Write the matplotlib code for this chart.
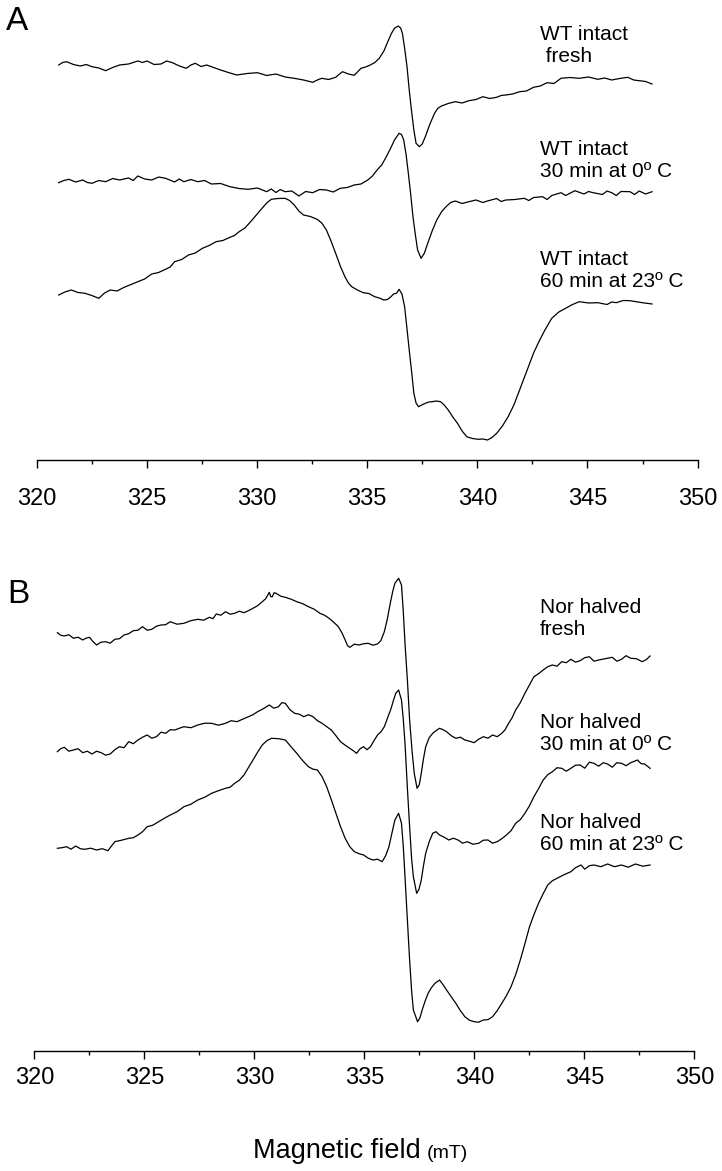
import matplotlib.pyplot as plt
from matplotlib.ticker import MultipleLocator

plt.rcParams['font.family'] = ['Liberation Sans', 'DejaVu Sans']

# ---- panel A: WT intact (signal, arbitrary units, traces as stacked in the figure)
A1_X = [321.00, 321.18, 321.36, 321.67, 321.98, 322.25, 322.51, 322.82, 323.13, 323.45,
        323.76, 324.17, 324.59, 324.80, 325.01, 325.33, 325.64, 325.90, 326.16, 326.48,
        326.79, 327.00, 327.20, 327.46, 327.72, 328.03, 328.35, 328.70, 329.08, 329.55,
        330.02, 330.44, 330.86, 331.28, 331.69, 332.11, 332.53, 332.74, 332.94, 333.25,
        333.57, 333.72, 333.88, 334.15, 334.41, 334.56, 334.72, 334.93, 335.14, 335.35,
        335.55, 335.76, 335.97, 336.10, 336.24, 336.41, 336.52, 336.60, 336.70, 336.81,
        336.91, 337.01, 337.12, 337.22, 337.37, 337.50, 337.64, 337.85, 338.06, 338.20,
        338.37, 338.68, 339.00, 339.31, 339.62, 339.94, 340.25, 340.56, 340.88, 341.08,
        341.29, 341.60, 341.92, 342.23, 342.55, 342.86, 343.17, 343.48, 343.80, 344.20,
        344.63, 345.05, 345.47, 345.78, 346.10, 346.46, 346.83, 347.10, 347.35, 347.64,
        347.93]
A1_Y = [395.0, 397.5, 398.3, 395.5, 394.0, 395.5, 393.3, 392.0, 389.3, 392.5,
        395.0, 396.0, 399.0, 397.5, 399.0, 395.5, 396.0, 399.0, 397.3, 394.0,
        391.7, 395.0, 396.7, 393.5, 395.0, 392.5, 390.0, 387.5, 385.0, 386.5,
        387.3, 384.5, 386.0, 383.0, 381.7, 380.0, 377.7, 380.0, 381.7, 380.5,
        382.7, 385.5, 388.3, 386.0, 384.7, 388.0, 391.7, 393.0, 395.0, 397.5,
        401.7, 409.0, 420.0, 426.5, 431.7, 434.0, 432.0, 426.7, 412.0, 393.3,
        370.0, 350.0, 330.0, 316.7, 313.3, 316.0, 323.3, 336.0, 346.7, 351.5,
        354.0, 356.5, 358.3, 357.0, 359.3, 360.5, 363.3, 361.5, 362.7, 364.5,
        365.0, 366.0, 368.3, 369.0, 372.7, 374.0, 377.3, 376.5, 381.7, 382.5,
        381.7, 383.0, 380.7, 382.0, 380.0, 381.5, 382.7, 380.0, 379.3, 378.5,
        376.0]

A2_X = [321.00, 321.23, 321.46, 321.77, 322.09, 322.30, 322.51, 322.82, 323.13, 323.45,
        323.76, 324.17, 324.38, 324.59, 324.90, 325.22, 325.54, 325.85, 326.26, 326.47,
        326.68, 327.00, 327.31, 327.62, 327.93, 328.35, 328.77, 329.18, 329.60, 330.02,
        330.44, 330.65, 330.86, 331.06, 331.27, 331.58, 331.90, 332.21, 332.53, 332.84,
        333.15, 333.46, 333.78, 334.10, 334.41, 334.72, 335.03, 335.24, 335.45, 335.66,
        335.87, 336.05, 336.24, 336.45, 336.56, 336.66, 336.77, 336.87, 336.98, 337.08,
        337.19, 337.29, 337.45, 337.60, 337.75, 337.95, 338.16, 338.37, 338.58, 338.79,
        339.00, 339.31, 339.62, 339.94, 340.25, 340.46, 340.88, 341.08, 341.29, 341.71,
        342.13, 342.34, 342.55, 342.96, 343.17, 343.38, 343.80, 344.01, 344.43, 344.84,
        345.05, 345.26, 345.68, 345.89, 346.10, 346.31, 346.52, 346.93, 347.14, 347.35,
        347.64, 347.93]
A2_Y = [277.3, 279.5, 280.7, 278.0, 280.0, 277.5, 276.7, 279.5, 278.3, 281.5,
        280.0, 282.0, 279.5, 284.0, 281.0, 280.0, 283.0, 281.7, 278.0, 281.0,
        278.3, 280.5, 278.3, 279.5, 276.0, 276.5, 273.3, 271.5, 270.7, 272.0,
        268.3, 271.0, 267.5, 270.5, 268.3, 269.0, 264.0, 268.5, 267.3, 270.5,
        270.0, 268.0, 271.7, 272.5, 275.0, 276.0, 280.0, 284.0, 290.0, 295.0,
        303.3, 311.0, 320.0, 326.7, 325.5, 320.0, 305.0, 286.7, 265.0, 243.3,
        225.0, 210.0, 201.7, 207.0, 216.7, 229.0, 240.0, 248.0, 253.3, 257.5,
        259.0, 256.5, 258.3, 260.0, 257.5, 259.0, 261.5, 258.5, 260.0, 260.5,
        261.7, 259.5, 262.5, 263.3, 260.5, 264.5, 267.3, 264.5, 269.3, 266.0,
        268.5, 267.3, 265.5, 269.0, 267.3, 264.5, 268.5, 268.3, 265.5, 269.0,
        266.0, 268.3]

A3_X = [321.00, 321.28, 321.57, 321.88, 322.19, 322.50, 322.82, 323.08, 323.34, 323.65,
        323.97, 324.28, 324.59, 324.90, 325.22, 325.53, 325.85, 326.06, 326.26, 326.58,
        326.89, 327.20, 327.52, 327.83, 328.14, 328.45, 328.77, 328.98, 329.19, 329.45,
        329.71, 329.97, 330.23, 330.44, 330.65, 330.96, 331.27, 331.48, 331.69, 331.90,
        332.11, 332.42, 332.73, 332.94, 333.15, 333.36, 333.57, 333.78, 333.99, 334.15,
        334.30, 334.56, 334.82, 335.08, 335.34, 335.55, 335.76, 335.92, 336.08, 336.20,
        336.33, 336.45, 336.58, 336.70, 336.80, 336.91, 337.02, 337.12, 337.22, 337.33,
        337.48, 337.64, 337.80, 337.95, 338.14, 338.33, 338.50, 338.68, 338.89, 339.10,
        339.31, 339.52, 339.78, 340.04, 340.25, 340.46, 340.67, 340.88, 341.14, 341.40,
        341.66, 341.92, 342.23, 342.55, 342.81, 343.07, 343.38, 343.70, 344.01, 344.32,
        344.63, 345.05, 345.47, 345.89, 346.10, 346.31, 346.62, 346.93, 347.43, 347.93]
A3_Y = [165.0, 168.0, 170.0, 167.5, 166.7, 164.5, 161.7, 167.0, 170.0, 169.0,
        172.7, 175.5, 178.3, 181.0, 186.0, 187.5, 190.7, 193.0, 198.3, 200.5,
        205.0, 207.0, 211.7, 214.5, 218.3, 219.5, 222.7, 224.5, 228.3, 232.0,
        238.3, 245.0, 251.7, 257.0, 260.7, 261.5, 261.7, 259.5, 255.0, 249.0,
        245.0, 243.5, 240.7, 237.0, 230.0, 219.0, 206.7, 194.0, 183.3, 177.0,
        173.3, 170.0, 167.3, 166.5, 163.3, 162.0, 160.0, 160.5, 163.3, 166.0,
        166.7, 170.7, 166.0, 153.3, 133.0, 110.0, 88.0, 66.7, 57.0, 53.3,
        55.0, 56.7, 58.0, 58.3, 59.0, 58.3, 55.0, 50.0, 43.0, 36.7,
        29.0, 23.3, 21.5, 20.7, 21.0, 20.0, 22.5, 26.7, 34.0, 43.3,
        55.0, 70.0, 88.0, 106.7, 119.0, 130.0, 141.7, 148.0, 151.7, 155.5,
        158.3, 157.0, 157.3, 155.5, 158.0, 157.3, 159.5, 159.3, 157.5, 156.0]

A_LABELS = ['WT intact\n fresh', 'WT intact\n30 min at 0º C', 'WT intact\n60 min at 23º C']

# ---- panel B: Nor halved
B1_X = [321.05, 321.20, 321.36, 321.57, 321.78, 321.99, 322.20, 322.35, 322.51, 322.67,
        322.83, 323.03, 323.24, 323.45, 323.66, 323.87, 324.08, 324.29, 324.50, 324.71,
        324.92, 325.13, 325.34, 325.55, 325.76, 325.97, 326.18, 326.49, 326.80, 327.11,
        327.43, 327.70, 327.96, 328.12, 328.27, 328.48, 328.69, 328.90, 329.11, 329.32,
        329.53, 329.73, 329.94, 330.15, 330.36, 330.52, 330.68, 330.75, 330.82, 330.90,
        330.99, 331.20, 331.41, 331.67, 331.93, 332.20, 332.46, 332.72, 332.98, 333.19,
        333.40, 333.61, 333.82, 333.98, 334.13, 334.24, 334.34, 334.55, 334.76, 334.97,
        335.18, 335.39, 335.60, 335.75, 335.91, 336.05, 336.18, 336.29, 336.39, 336.56,
        336.69, 336.77, 336.85, 336.96, 337.06, 337.17, 337.27, 337.40, 337.50, 337.59,
        337.69, 337.79, 337.95, 338.11, 338.26, 338.42, 338.58, 338.74, 338.95, 339.16,
        339.37, 339.57, 339.78, 339.99, 340.20, 340.41, 340.62, 340.83, 341.04, 341.25,
        341.40, 341.56, 341.72, 341.88, 342.09, 342.30, 342.51, 342.71, 342.92, 343.13,
        343.34, 343.55, 343.76, 343.97, 344.18, 344.39, 344.60, 344.81, 345.02, 345.23,
        345.44, 345.65, 345.96, 346.27, 346.48, 346.69, 346.90, 347.11, 347.37, 347.63,
        347.81, 347.99]
B1_Y = [418.0, 415.5, 414.7, 416.0, 412.4, 413.5, 410.7, 412.5, 413.4, 409.0,
        405.7, 408.5, 409.0, 407.5, 411.4, 412.0, 415.7, 417.0, 420.0, 420.5,
        424.0, 420.5, 421.4, 424.5, 425.7, 426.0, 429.0, 426.5, 427.4, 430.0,
        431.4, 430.5, 433.4, 432.0, 436.7, 435.5, 439.0, 436.5, 437.4, 439.5,
        438.0, 440.0, 442.4, 445.0, 449.0, 452.0, 458.4, 454.0, 454.0, 458.0,
        457.4, 454.5, 453.4, 451.5, 449.0, 447.0, 444.0, 441.5, 437.4, 435.5,
        432.4, 428.5, 424.0, 418.0, 410.7, 405.0, 403.4, 406.5, 405.7, 407.0,
        407.4, 405.5, 406.7, 410.0, 419.0, 432.0, 447.4, 459.0, 467.4, 472.4,
        465.7, 440.0, 407.4, 370.0, 330.7, 300.0, 277.4, 262.4, 266.0, 277.4,
        292.0, 304.0, 313.0, 317.4, 320.0, 322.4, 321.0, 319.0, 315.0, 312.4,
        313.5, 310.7, 309.5, 308.0, 311.5, 314.0, 312.5, 315.7, 314.0, 317.4,
        321.0, 327.4, 333.0, 340.7, 348.0, 357.4, 366.0, 374.0, 377.0, 380.7,
        384.0, 385.7, 384.5, 389.0, 388.0, 391.4, 388.5, 390.0, 393.0, 394.0,
        389.5, 390.7, 392.0, 393.4, 389.5, 391.4, 395.0, 392.4, 392.0, 389.0,
        391.0, 394.7]

B2_X = [321.05, 321.20, 321.36, 321.57, 321.78, 321.99, 322.20, 322.41, 322.62, 322.83,
        323.04, 323.24, 323.45, 323.66, 323.87, 324.08, 324.29, 324.50, 324.71, 324.92,
        325.13, 325.34, 325.55, 325.76, 325.97, 326.18, 326.39, 326.60, 326.80, 327.12,
        327.43, 327.75, 328.06, 328.37, 328.69, 328.95, 329.21, 329.47, 329.73, 329.94,
        330.15, 330.41, 330.68, 330.89, 331.10, 331.25, 331.41, 331.62, 331.83, 332.04,
        332.25, 332.46, 332.67, 332.87, 333.08, 333.29, 333.50, 333.71, 333.92, 334.13,
        334.34, 334.50, 334.65, 334.81, 334.97, 335.12, 335.28, 335.44, 335.60, 335.76,
        335.91, 336.06, 336.22, 336.32, 336.43, 336.56, 336.69, 336.77, 336.85, 336.96,
        337.06, 337.15, 337.23, 337.38, 337.48, 337.59, 337.69, 337.79, 337.95, 338.11,
        338.26, 338.42, 338.63, 338.84, 339.05, 339.26, 339.47, 339.68, 339.94, 340.20,
        340.41, 340.62, 340.83, 341.04, 341.25, 341.46, 341.67, 341.88, 342.09, 342.30,
        342.51, 342.71, 342.92, 343.13, 343.34, 343.55, 343.76, 343.97, 344.18, 344.39,
        344.60, 344.81, 345.02, 345.23, 345.44, 345.65, 345.86, 346.06, 346.27, 346.48,
        346.69, 346.90, 347.11, 347.42, 347.58, 347.74, 347.99]
B2_Y = [299.0, 302.0, 303.4, 299.5, 300.7, 302.0, 298.0, 299.5, 296.7, 299.5,
        298.0, 295.5, 296.7, 301.0, 304.0, 303.0, 309.0, 307.0, 310.7, 313.5,
        315.7, 312.5, 314.0, 318.5, 317.4, 321.0, 320.7, 322.5, 324.0, 323.0,
        325.7, 327.5, 327.4, 325.5, 327.4, 330.0, 329.0, 331.5, 334.0, 336.0,
        339.0, 342.0, 345.7, 342.5, 344.0, 348.0, 347.4, 341.0, 337.4, 336.5,
        334.0, 336.0, 334.0, 330.0, 327.4, 324.0, 320.7, 315.0, 309.0, 305.5,
        302.4, 300.0, 297.4, 302.0, 304.0, 301.0, 304.0, 310.0, 315.7, 319.0,
        324.0, 333.0, 342.4, 350.0, 357.4, 360.7, 350.7, 332.0, 307.4, 262.0,
        224.0, 192.0, 174.0, 157.4, 161.0, 170.7, 185.0, 197.4, 209.0, 217.4,
        219.0, 215.7, 213.5, 210.7, 212.5, 210.7, 207.5, 209.0, 206.5, 207.4,
        210.5, 210.7, 207.5, 209.0, 212.0, 215.7, 220.0, 227.4, 231.0, 237.4,
        245.0, 254.0, 262.0, 270.7, 276.0, 279.0, 283.0, 282.4, 279.5, 282.4,
        285.5, 285.7, 282.5, 288.5, 287.4, 284.5, 288.0, 286.7, 283.5, 288.0,
        287.4, 285.0, 288.0, 290.7, 287.0, 286.7, 282.4]

B3_X = [321.05, 321.26, 321.47, 321.67, 321.88, 322.09, 322.30, 322.56, 322.83, 323.09,
        323.35, 323.50, 323.66, 323.97, 324.29, 324.50, 324.71, 324.92, 325.13, 325.39,
        325.65, 325.92, 326.18, 326.49, 326.80, 327.12, 327.43, 327.75, 328.06, 328.37,
        328.69, 328.90, 329.11, 329.32, 329.53, 329.73, 329.94, 330.15, 330.36, 330.57,
        330.78, 331.10, 331.41, 331.67, 331.93, 332.20, 332.46, 332.67, 332.87, 333.08,
        333.29, 333.50, 333.71, 333.92, 334.13, 334.34, 334.55, 334.76, 334.97, 335.18,
        335.39, 335.60, 335.81, 335.97, 336.12, 336.26, 336.39, 336.56, 336.69, 336.77,
        336.85, 336.96, 337.06, 337.15, 337.23, 337.42, 337.53, 337.63, 337.77, 337.90,
        338.05, 338.21, 338.42, 338.58, 338.74, 338.95, 339.16, 339.37, 339.57, 339.78,
        339.99, 340.20, 340.41, 340.62, 340.83, 341.04, 341.25, 341.46, 341.67, 341.88,
        342.09, 342.30, 342.51, 342.71, 342.92, 343.13, 343.34, 343.55, 343.76, 344.08,
        344.39, 344.60, 344.85, 345.02, 345.23, 345.44, 345.75, 346.06, 346.37, 346.69,
        347.00, 347.32, 347.66, 347.99]
B3_Y = [202.4, 203.0, 204.0, 201.5, 204.7, 202.0, 201.4, 202.5, 200.7, 202.0,
        200.0, 204.5, 209.0, 210.5, 212.4, 213.0, 215.7, 219.0, 224.0, 225.5,
        229.0, 232.5, 235.7, 239.0, 244.0, 246.5, 250.7, 253.5, 257.4, 260.0,
        262.4, 263.5, 267.4, 270.5, 275.7, 283.0, 290.7, 298.5, 305.7, 310.0,
        312.4, 312.0, 310.7, 304.0, 297.4, 290.0, 284.0, 281.5, 280.7, 274.0,
        264.0, 251.0, 237.4, 224.0, 212.4, 204.0, 199.0, 197.0, 195.7, 192.5,
        190.7, 191.5, 189.0, 195.0, 204.0, 218.0, 230.7, 237.4, 227.4, 205.0,
        174.0, 130.0, 90.7, 60.0, 40.7, 29.0, 33.0, 40.7, 50.0, 57.4,
        63.0, 67.4, 70.7, 66.0, 60.7, 54.0, 47.4, 40.0, 34.0, 30.5,
        29.0, 28.5, 30.7, 31.0, 34.0, 40.0, 47.4, 55.0, 64.0, 76.0,
        90.7, 107.0, 124.0, 136.0, 147.4, 157.0, 165.7, 170.0, 172.4, 176.0,
        179.0, 183.0, 185.7, 181.5, 185.0, 185.7, 184.0, 186.7, 184.0, 185.7,
        183.5, 186.7, 184.5, 185.7]

B_LABELS = ['Nor halved\nfresh', 'Nor halved\n30 min at 0º C', 'Nor halved\n60 min at 23º C']

XTICKS = [320, 325, 330, 335, 340, 345, 350]

W, H = 722, 1171


def style_axis(ax, top, label_pad):
    ax.set_xlim(320, 350)
    ax.set_ylim(0, top)
    for side in ['left', 'right', 'top']:
        ax.spines[side].set_visible(False)
    ax.spines['bottom'].set_linewidth(1.0)
    ax.set_yticks([])
    ax.set_xticks(XTICKS)
    ax.xaxis.set_minor_locator(MultipleLocator(2.5))
    ax.tick_params(axis='x', which='major', length=6, width=1.0, labelsize=17, pad=label_pad)
    ax.tick_params(axis='x', which='minor', length=3, width=1.0)
    ax.patch.set_alpha(0)


def draw_panel(ax, traces, labels, label_x, label_ys):
    for (x, y) in traces:
        ax.plot(x, y, color='black', lw=0.9)
    for text, ly in zip(labels, label_ys):
        ax.text(label_x, ly, text, fontsize=15, va='baseline', ha='left', linespacing=1.2)


fig = plt.figure(figsize=(W / 100, H / 100), dpi=100)

axA = fig.add_axes([36.7 / W, 1 - 460 / H, 660.9 / W, 460 / H])
style_axis(axA, 460, 14)
draw_panel(axA, [(A1_X, A1_Y), (A2_X, A2_Y), (A3_X, A3_Y)], A_LABELS,
           342.85, [398.3, 283.3, 173.3])

axB = fig.add_axes([34.3 / W, 1 - 1050.7 / H, 660 / W, 490.7 / H])
style_axis(axB, 490.7, 6)
draw_panel(axB, [(B1_X, B1_Y), (B2_X, B2_Y), (B3_X, B3_Y)], B_LABELS,
           342.99, [415.7, 300.7, 200.7])

fig.text(6 / W, 1 - 30 / H, 'A', fontsize=24, va='baseline', ha='left')
fig.text(7 / W, 1 - 603 / H, 'B', fontsize=24, va='baseline', ha='left')
fig.text(253 / W, 1 - 1158 / H, 'Magnetic field', fontsize=19.5, va='baseline', ha='left')
fig.text(427 / W, 1 - 1158 / H, '(mT)', fontsize=14, va='baseline', ha='left')

fig.savefig('out.png', dpi=100)
